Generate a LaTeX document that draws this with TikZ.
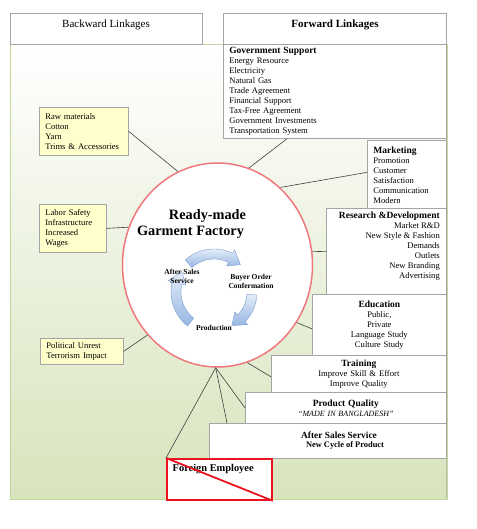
\documentclass[tikz,border=0pt]{standalone}
\usepackage{fontspec}
\setmainfont{Liberation Serif}
\usetikzlibrary{shapes.geometric,calc}
\definecolor{bggreen}{RGB}{215,228,188}
\definecolor{boxline}{RGB}{165,165,165}
\definecolor{yellowfill}{RGB}{255,255,204}
\definecolor{connc}{RGB}{64,64,64}
\definecolor{ringred}{RGB}{240,120,125}
\definecolor{arrowlight}{RGB}{228,237,249}
\definecolor{arrowdark}{RGB}{150,182,226}
\definecolor{arrowline}{RGB}{125,158,210}
\definecolor{panelline}{RGB}{196,214,160}
\definecolor{panelright}{RGB}{190,192,180}
\definecolor{fered}{RGB}{235,20,30}
\newcommand\regfont{\fontsize{8.6}{10}\selectfont}
\newcommand\hdr[1]{{\fontsize{9.5}{10}\selectfont\bfseries #1}}
\newcommand\cycarrow[3]{%
  \shadedraw[top color=arrowlight, bottom color=arrowdark, draw=arrowline, line width=0.4pt]
   plot[domain=#1:#2, samples=25] ({214+43*cos(\x)},{292+43*sin(\x)})
   -- ({214+47*cos(#2)},{292+47*sin(#2)})
   -- ({214+38*cos(#3)},{292+38*sin(#3)})
   -- ({214+29*cos(#2)},{292+29*sin(#2)})
   -- ({214+33*cos(#2)},{292+33*sin(#2)})
   -- plot[domain=#2:#1, samples=25] ({214+33*cos(\x)},{292+33*sin(\x)})
   -- cycle;}
\begin{document}
\begin{tikzpicture}[x=1pt,y=-1pt,
  box/.style={draw=boxline, line width=0.7pt, fill=white, inner xsep=6pt, inner ysep=0pt, anchor=north west, font=\regfont},
  ybox/.style={box, fill=yellowfill},
  conn/.style={draw=connc, line width=0.6pt},
  cyc/.style={font=\fontsize{7.5}{9}\selectfont\bfseries, align=center, inner sep=0pt},
  plain/.style={inner sep=0pt}]
\useasboundingbox (0,0) rectangle (476,529);
% background panel
\shade[top color=white, bottom color=bggreen] (10,44) rectangle (447,499);
\draw[panelline, line width=0.8pt] (10,44) rectangle (447,499);
\draw[panelright, line width=1.5pt] (446.5,44) -- (446.5,499);
% header boxes
\node[box, minimum width=192pt, minimum height=31pt] (bl) at (10,13) {};
\node[box, minimum width=223pt, minimum height=31pt] (fl) at (223,13) {};
\node[plain, font=\fontsize{11}{13}\selectfont] (bltext) at (106,25) {Backward Linkages};
\node[plain, font=\fontsize{11}{13}\selectfont\bfseries] (fltext) at (335,25) {Forward Linkages};
% forward boxes
\node[box, minimum width=223pt, minimum height=94pt, text width=211pt, align=left] (gov) at (223,44)
  {\hdr{Government Support}\\Energy Resource\\Electricity\\Natural Gas\\Trade Agreement\\Financial Support\\Tax-Free Agreement\\Government Investments\\Transportation System};
\node[box, minimum width=79pt, minimum height=70pt, text width=67pt, align=left] (mk) at (367,140)
  {\hdr{Marketing}\\Promotion\\Customer\\Satisfaction\\Communication\\Modern};
\node[box, minimum width=120pt, minimum height=86pt] (rd) at (326,208) {};
\node[plain, font=\regfont, align=right, anchor=north east] (rdtext) at (440,211.5)
  {\hdr{Research \&Development}\\Market R\&D\\New Style \& Fashion\\Demands\\Outlets\\New Branding\\Advertising};
\node[box, minimum width=134pt, minimum height=61pt, text width=122pt, align=center] (ed) at (312,294)
  {\hdr{Education}\\Public,\\Private\\Language Study\\Culture Study};
\node[box, minimum width=175pt, minimum height=37pt, text width=163pt, align=center] (tr) at (271,355)
  {\hdr{Training}\\Improve Skill \& Effort\\Improve Quality};
\node[box, minimum width=201pt, minimum height=31pt, text width=189pt, align=center] (pq) at (245,392)
  {\hdr{Product Quality}\\{\fontsize{8}{10}\selectfont\itshape “MADE IN BANGLADESH”}};
\node[box, minimum width=237pt, minimum height=35pt] (as) at (209,423) {};
\node[plain, font=\fontsize{9.4}{10}\selectfont\bfseries] (astext1) at (339,435) {After Sales Service};
\node[plain, font=\fontsize{8.4}{10}\selectfont\bfseries] (astext2) at (345,445.5) {New Cycle of Product};
\node[box, draw=fered, line width=1.8pt, minimum width=105pt, minimum height=41pt] (fe) at (166,458) {};
\node[plain, font=\fontsize{10.4}{12}\selectfont\bfseries, anchor=west] (fetext) at (172.5,469) {Foreign Employee};
\draw[fered, line width=1.8pt] (fe.north west) -- (fe.south east);
% backward boxes
\node[ybox, minimum width=89pt, minimum height=48pt, text width=77pt, align=left] (raw) at (39,107)
  {Raw materials\\Cotton\\Yarn\\Trims \& Accessories};
\node[ybox, minimum width=67pt, minimum height=48pt, text width=55pt, align=left] (labor) at (39,204)
  {Labor Safety\\Infrastructure\\Increased\\Wages};
\node[ybox, minimum width=83pt, minimum height=26pt, text width=71pt, align=left] (pol) at (40,338)
  {Political Unrest\\Terrorism Impact};
% central circle
\node[ellipse, draw=ringred, line width=1.5pt, fill=white, minimum width=190pt, minimum height=204pt, inner sep=0pt] (rmg) at (217.5,265) {};
\node[plain, font=\fontsize{14.3}{16}\selectfont\bfseries] (t1) at (207.5,216) {Ready-made};
\node[plain, font=\fontsize{14.3}{16}\selectfont\bfseries] (t2) at (190.5,232) {Garment Factory};
% cycle
\cycarrow{-132}{-64}{-46}
\cycarrow{4}{44}{62}
\cycarrow{128}{194}{212}
\node[cyc] (cas) at (182,276.5) {After Sales\\Service};
\node[cyc] (cbo) at (251,281.5) {Buyer Order\\Confermation};
\node[cyc] (cpr) at (214,328) {Production};
% connectors
\draw[conn] (raw.east) -- (rmg.113.5);
\draw[conn] (labor.east) -- (rmg.157);
\draw[conn] (pol.east) -- (rmg.225);
\draw[conn] ([xshift=64pt]gov.south west) -- (rmg.72.5);
\draw[conn] ([yshift=3pt]mk.west) -- (rmg.51.3);
\draw[conn] (rd.west) -- (rmg.8);
\draw[conn] ([yshift=-4pt]ed.west) -- (rmg.-36.6);
\draw[conn] ([yshift=-3pt]tr.west) -- (rmg.-73);
\draw[conn] (pq.west) -- (rmg.-91);
\draw[conn] ([xshift=18pt]as.north west) -- (rmg.-91);
\draw[conn] (fe.north west) -- (rmg.-91);
\end{tikzpicture}
\end{document}
